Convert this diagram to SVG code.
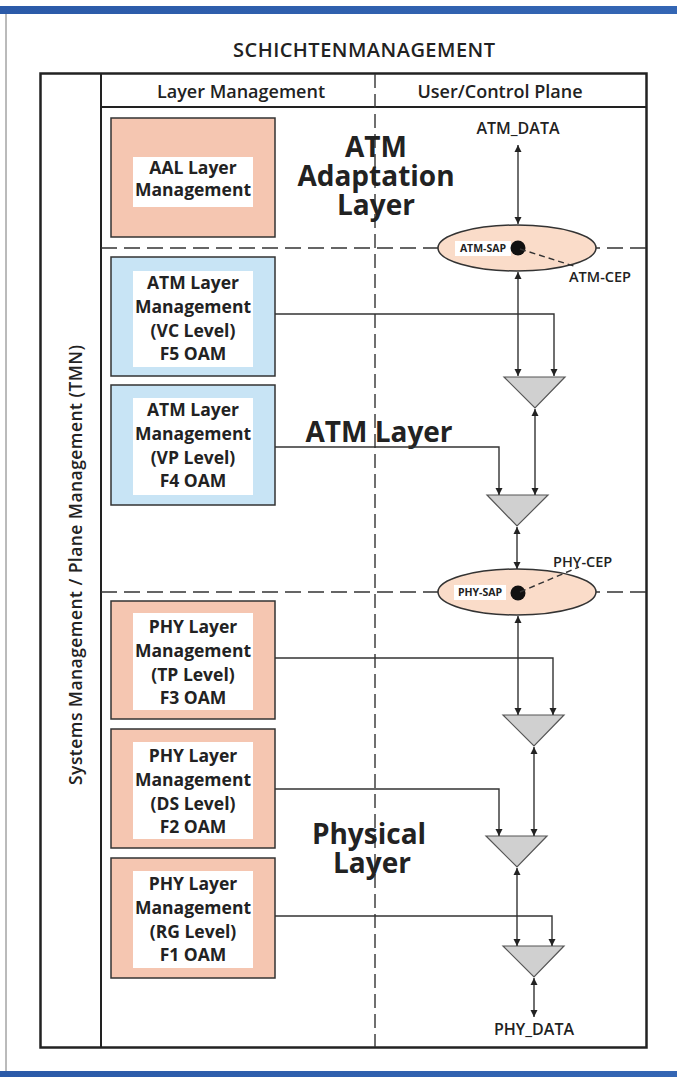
<svg xmlns="http://www.w3.org/2000/svg" width="677" height="1077" viewBox="0 0 677 1077">
<defs>
<style>
text{font-family:"Open Sans","Liberation Sans",Arial,sans-serif;fill:#222;}
.t{font-size:17.5px;font-weight:700;text-anchor:middle;}
.h{font-size:18px;font-weight:600;text-anchor:middle;}
.big{font-size:28px;font-weight:700;text-anchor:middle;}
.sm{font-size:10.5px;font-weight:700;text-anchor:middle;}
.cep{font-size:14.5px;font-weight:600;}
.data{font-size:16px;font-weight:600;text-anchor:middle;}
.salmon{fill:#f5c6b1;stroke:#333;stroke-width:1.5;}
.blue{fill:#c8e4f5;stroke:#333;stroke-width:1.5;}
.inner{fill:#fff;stroke:none;}
.ell{fill:#fadcc9;stroke:#333;stroke-width:1.5;}
.tri{fill:#d0d0d0;stroke:#555;stroke-width:1.2;}
.con{fill:none;stroke:#333;stroke-width:1.4;}
.dash{fill:none;stroke:#333;stroke-width:1.6;stroke-dasharray:16,7;}
</style>
<marker id="ah" viewBox="0 0 10 10" refX="10" refY="5" markerWidth="7" markerHeight="9" markerUnits="userSpaceOnUse" orient="auto-start-reverse">
<path d="M0,0 L10,5 L0,10 z" fill="#222"/>
</marker>
<linearGradient id="bar" x1="0" y1="0" x2="1" y2="0">
<stop offset="0" stop-color="#2b5aa8"/>
<stop offset="1" stop-color="#3466b4"/>
</linearGradient>
</defs>

<g id="page">
<rect x="0" y="6" width="677" height="8" fill="url(#bar)"/>
<rect x="0" y="1071" width="677" height="6" fill="url(#bar)"/>
<line x1="6" y1="14" x2="6" y2="1071" stroke="#777" stroke-width="1"/>
<text x="364" y="57" style="font-size:20px;font-weight:600;text-anchor:middle;" textLength="262">SCHICHTENMANAGEMENT</text>
</g>

<g id="frame">
<rect x="40.5" y="73.5" width="606" height="974" fill="none" stroke="#222" stroke-width="2.5"/>
<line x1="101" y1="73" x2="101" y2="1048" stroke="#222" stroke-width="2"/>
<line x1="101" y1="107" x2="646" y2="107" stroke="#222" stroke-width="2"/>
<line x1="375" y1="74" x2="375" y2="1047" class="dash" style="stroke-dasharray:14,6;stroke-width:1.4"/>
<line x1="101" y1="248" x2="646" y2="248" class="dash"/>
<line x1="101" y1="592" x2="646" y2="592" class="dash"/>
<text class="h" x="241" y="98">Layer Management</text>
<text class="h" x="500" y="98">User/Control Plane</text>
<text class="h" style="font-size:17.5px" transform="translate(82,565) rotate(-90)" textLength="440">Systems Management / Plane Management (TMN)</text>
</g>

<g id="layer-labels">
<text class="big" x="376" y="157">ATM</text>
<text class="big" x="376" y="186">Adaptation</text>
<text class="big" x="376" y="215">Layer</text>
<text class="big" x="379" y="442">ATM Layer</text>
<text class="big" x="369" y="844">Physical</text>
<text class="big" x="372" y="873">Layer</text>
</g>

<g id="aal">
<rect class="salmon" x="111" y="118" width="164" height="119"/>
<rect class="inner" x="133" y="157" width="120" height="50"/>
<text class="t" x="193" y="174">AAL Layer</text>
<text class="t" x="193" y="196">Management</text>
</g>

<g id="atm-vc">
<rect class="blue" x="111" y="257" width="164" height="119"/>
<rect class="inner" x="133" y="271" width="120" height="96"/>
<text class="t" x="193" y="289">ATM Layer</text>
<text class="t" x="193" y="313">Management</text>
<text class="t" x="193" y="337">(VC Level)</text>
<text class="t" x="193" y="360">F5 OAM</text>
</g>

<g id="atm-vp">
<rect class="blue" x="111" y="385" width="164" height="120"/>
<rect class="inner" x="133" y="398" width="120" height="97"/>
<text class="t" x="193" y="416">ATM Layer</text>
<text class="t" x="193" y="440">Management</text>
<text class="t" x="193" y="464">(VP Level)</text>
<text class="t" x="193" y="487">F4 OAM</text>
</g>

<g id="phy-tp">
<rect class="salmon" x="111" y="601" width="164" height="118"/>
<rect class="inner" x="133" y="613" width="120" height="97"/>
<text class="t" x="193" y="633">PHY Layer</text>
<text class="t" x="193" y="657">Management</text>
<text class="t" x="193" y="681">(TP Level)</text>
<text class="t" x="193" y="704">F3 OAM</text>
</g>

<g id="phy-ds">
<rect class="salmon" x="111" y="729" width="164" height="119"/>
<rect class="inner" x="133" y="742" width="120" height="97"/>
<text class="t" x="193" y="762">PHY Layer</text>
<text class="t" x="193" y="786">Management</text>
<text class="t" x="193" y="810">(DS Level)</text>
<text class="t" x="193" y="833">F2 OAM</text>
</g>

<g id="phy-rg">
<rect class="salmon" x="111" y="858" width="164" height="120"/>
<rect class="inner" x="133" y="871" width="120" height="97"/>
<text class="t" x="193" y="890">PHY Layer</text>
<text class="t" x="193" y="914">Management</text>
<text class="t" x="193" y="938">(RG Level)</text>
<text class="t" x="193" y="961">F1 OAM</text>
</g>

<g id="atm-sap">
<ellipse class="ell" cx="517" cy="248" rx="79" ry="23"/>
<rect class="inner" x="455" y="241" width="56" height="15"/>
<text class="sm" x="483" y="252">ATM-SAP</text>
<circle cx="518" cy="248" r="7.5" fill="#111"/>
<line x1="520" y1="249" x2="577" y2="267" stroke="#333" stroke-width="1.4" stroke-dasharray="6,4"/>
<text class="cep" x="569" y="282">ATM-CEP</text>
</g>

<g id="phy-sap">
<ellipse class="ell" cx="517" cy="592" rx="79" ry="23"/>
<rect class="inner" x="454" y="585" width="52" height="15"/>
<text class="sm" x="480" y="596">PHY-SAP</text>
<circle cx="518" cy="593" r="7.5" fill="#111"/>
<line x1="520" y1="592" x2="579" y2="567" stroke="#333" stroke-width="1.4" stroke-dasharray="6,4"/>
<text class="cep" x="553" y="567">PHY-CEP</text>
</g>

<g id="atm-data"><text class="data" x="518" y="134">ATM_DATA</text></g>
<g id="phy-data"><text class="data" x="534" y="1035">PHY_DATA</text></g>

<g id="mux1"><polygon class="tri" points="504,377 565,377 535,408"/></g>
<g id="mux2"><polygon class="tri" points="487,495 548,495 517,526"/></g>
<g id="mux3"><polygon class="tri" points="503,715 564,715 534,746"/></g>
<g id="mux4"><polygon class="tri" points="486,836 547,836 517,867"/></g>
<g id="mux5"><polygon class="tri" points="503,946 564,946 534,977"/></g>

<g id="connectors">
<path class="con" d="M518,145 V224" marker-start="url(#ah)" marker-end="url(#ah)"/>
<path class="con" d="M518,272 V376" marker-start="url(#ah)" marker-end="url(#ah)"/>
<path class="con" d="M275,314 H554 V376" marker-end="url(#ah)"/>
<path class="con" d="M535,409 V495" marker-start="url(#ah)" marker-end="url(#ah)"/>
<path class="con" d="M275,447 H499 V495" marker-end="url(#ah)"/>
<path class="con" d="M517,527 V569" marker-start="url(#ah)" marker-end="url(#ah)"/>
<path class="con" d="M518,616 V715" marker-start="url(#ah)" marker-end="url(#ah)"/>
<path class="con" d="M275,658 H553 V715" marker-end="url(#ah)"/>
<path class="con" d="M534,747 V836" marker-start="url(#ah)" marker-end="url(#ah)"/>
<path class="con" d="M275,789 H499 V836" marker-end="url(#ah)"/>
<path class="con" d="M517,868 V946" marker-start="url(#ah)" marker-end="url(#ah)"/>
<path class="con" d="M275,916 H552 V946" marker-end="url(#ah)"/>
<path class="con" d="M534,978 V1017" marker-start="url(#ah)" marker-end="url(#ah)"/>
</g>
</svg>
